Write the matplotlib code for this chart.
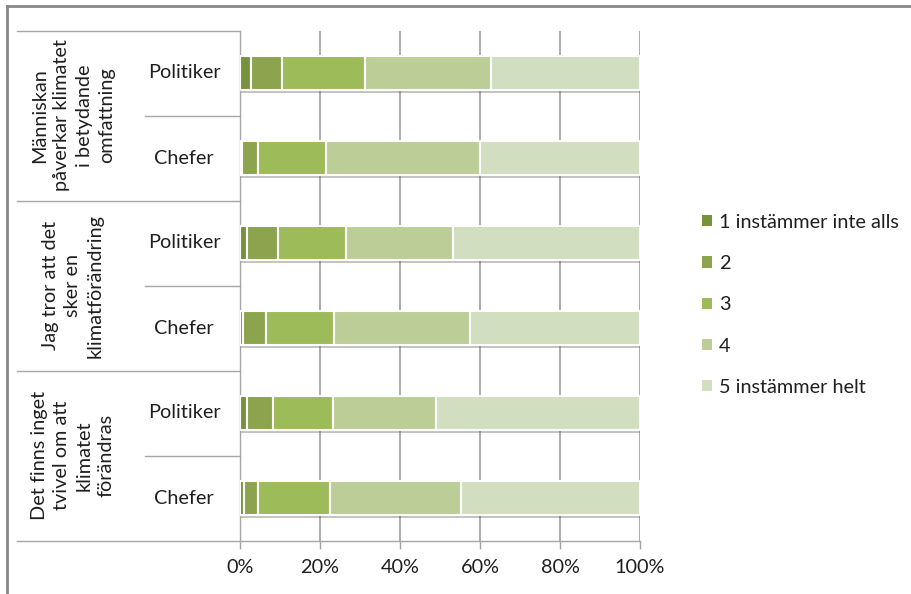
import numpy as np
import matplotlib.pyplot as plt
import matplotlib.patheffects as pe
from matplotlib.patches import Patch
from matplotlib.transforms import blended_transform_factory

plt.rcParams['font.family'] = ['Lato', 'DejaVu Sans']

# data (percent), rows from top to bottom
groups = ['Människan\npåverkar klimatet\ni betydande\nomfattning',
          'Jag tror att det\nsker en\nklimatförändring',
          'Det finns inget\ntvivel om att\nklimatet\nförändras']
roles = ['Politiker', 'Chefer', 'Politiker', 'Chefer', 'Politiker', 'Chefer']
series = ['1 instämmer inte alls', '2', '3', '4', '5 instämmer helt']
s1 = [2.7, 0.4, 1.7, 0.8, 1.8, 1.0]
s2 = [7.9, 4.2, 7.7, 5.6, 6.4, 3.5]
s3 = [20.7, 16.9, 17.1, 17.0, 15.1, 18.0]
s4 = [31.5, 38.4, 26.8, 34.0, 25.7, 32.8]
s5 = [37.2, 40.1, 46.7, 42.6, 51.0, 44.7]
colors = ['#76923C', '#8BA44D', '#9DBB59', '#BBCE98', '#D2DEC0']

fs = 14.3
txt = '#1f1f1f'

fig = plt.figure(figsize=(9.12, 5.94), dpi=100)
ax = fig.add_axes([240 / 912, 53.5 / 594, 400 / 912, 510 / 594])

y = np.arange(len(roles))
left = np.zeros(len(roles))
shadow = [pe.SimplePatchShadow(offset=(0.5, -2.5), shadow_rgbFace='#555555', alpha=0.35), pe.Normal()]
for vals, c, name in zip([s1, s2, s3, s4, s5], colors, series):
    bars = ax.barh(y, vals, left=left, height=0.39, color=c, edgecolor='white',
                   linewidth=1.5, zorder=3)
    for b in bars:
        b.set_path_effects(shadow)
    left += np.array(vals)

ax.set_xlim(0, 100)
ax.set_ylim(5.5, -0.5)
ax.set_xticks([0, 20, 40, 60, 80, 100])
ax.set_xticklabels(['0%', '20%', '40%', '60%', '80%', '100%'], fontsize=fs, color=txt)
ax.set_yticks([])
ax.tick_params(axis='x', length=6, width=1, color='#A6A6A6', pad=7)
ax.grid(axis='x', color='#A6A6A6', linewidth=1.3, zorder=0)
for s in ['top', 'right']:
    ax.spines[s].set_visible(False)
for s in ['left', 'bottom']:
    ax.spines[s].set_color('#A6A6A6')
    ax.spines[s].set_linewidth(1)

# hierarchical category labels on the left
tr = blended_transform_factory(ax.transAxes, ax.transData)
for i, r in enumerate(roles):
    ax.text(-0.14, i, r, transform=tr, ha='center', va='center', fontsize=fs, color=txt)
for k, g in enumerate(groups):
    ax.text(-0.4175, 2 * k + 0.5, g, transform=tr, ha='center', va='center', rotation=90,
            fontsize=fs, color=txt, linespacing=1.38)
for yy in [-0.5, 1.5, 3.5, 5.5]:
    ax.plot([-0.5575, 0], [yy, yy], transform=tr, color='#A6A6A6', lw=1, clip_on=False)
for yy in [0.5, 2.5, 4.5]:
    ax.plot([-0.2375, 0], [yy, yy], transform=tr, color='#A6A6A6', lw=1, clip_on=False)

handles = [Patch(facecolor=c, edgecolor='none') for c in colors]
fig.legend(handles, series, loc='upper left', bbox_to_anchor=(684 / 912, 1 - 196 / 594),
           frameon=False, fontsize=fs, handlelength=0.5, handleheight=0.5,
           handletextpad=0.35, labelspacing=1.22, labelcolor=txt)

# outer frame (top and left edges)
fig.add_artist(plt.Line2D([7 / 912, 1], [1 - 6 / 594, 1 - 6 / 594], color='#888888', lw=2))
fig.add_artist(plt.Line2D([7 / 912, 7 / 912], [0, 1 - 6 / 594], color='#888888', lw=2))

fig.savefig('out.png', dpi=100)
